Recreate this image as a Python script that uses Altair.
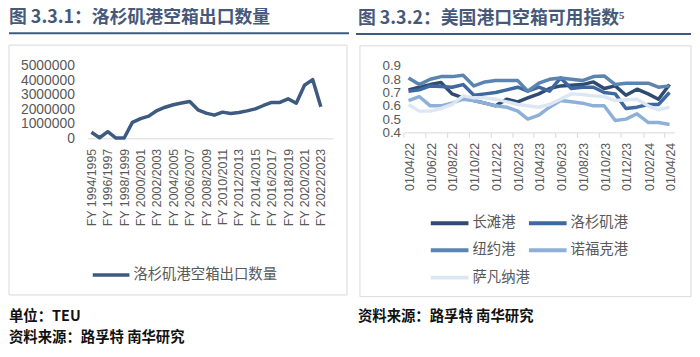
import altair as alt
import pandas as pd

FONT_CJK = "Noto Sans CJK SC"
FONT_AX = "Liberation Sans"
GRAY = "#595959"
BORDER = "#D9D9D9"
TITLE_C = "#46597A"
RULE_C = "#3F5A82"
LINE_SYMBOL = "M-2,0H2"

# ---------------- left chart data ----------------
fy_labels = [
    "FY 1994/1995", "FY 1995/1996", "FY 1996/1997", "FY 1997/1998", "FY 1998/1999",
    "FY 1999/2000", "FY 2000/2001", "FY 2001/2002", "FY 2002/2003", "FY 2003/2004",
    "FY 2004/2005", "FY 2005/2006", "FY 2006/2007", "FY 2007/2008", "FY 2008/2009",
    "FY 2009/2010", "FY 2010/2011", "FY 2011/2012", "FY 2012/2013", "FY 2013/2014",
    "FY 2014/2015", "FY 2015/2016", "FY 2016/2017", "FY 2017/2018", "FY 2018/2019",
    "FY 2019/2020", "FY 2020/2021", "FY 2021/2022", "FY 2022/2023", "FY 2023/2024",
]
la_empty_export = [
    420000, 40000, 460000, 20000, 20000, 1100000, 1360000, 1530000, 1920000, 2150000,
    2320000, 2440000, 2550000, 1970000, 1740000, 1600000, 1810000, 1720000, 1790000, 1900000,
    2040000, 2270000, 2480000, 2480000, 2730000, 2430000, 3670000, 4060000, 2180000,
]
left_series = "洛杉矶港空箱出口数量"
left_y_ticks = [0, 1000000, 2000000, 3000000, 4000000, 5000000]

# ---------------- right chart data ----------------
dates = [
    "2022-04-15T00:00:00", "2022-05-15T00:00:00", "2022-06-15T00:00:00", "2022-07-15T00:00:00",
    "2022-08-15T00:00:00", "2022-09-15T00:00:00", "2022-10-15T00:00:00", "2022-11-15T00:00:00",
    "2022-12-15T00:00:00", "2023-01-15T00:00:00", "2023-02-15T00:00:00", "2023-03-15T00:00:00",
    "2023-04-15T00:00:00", "2023-05-15T00:00:00", "2023-06-15T00:00:00", "2023-07-15T00:00:00",
    "2023-08-15T00:00:00", "2023-09-15T00:00:00", "2023-10-15T00:00:00", "2023-11-15T00:00:00",
    "2023-12-15T00:00:00", "2024-01-15T00:00:00", "2024-02-15T00:00:00", "2024-03-15T00:00:00",
    "2024-04-15T00:00:00",
]
ports = ["长滩港", "洛杉矶港", "纽约港", "诺福克港", "萨凡纳港"]
port_colors = ["#2F4A73", "#3E68A0", "#5B84B1", "#8DB0D9", "#DDE7F3"]
long_beach = [0.72, 0.74, 0.76, 0.775, 0.69, 0.66, 0.64, 0.62, 0.60, 0.65, 0.63, 0.66, 0.69,
              0.73, 0.75, 0.755, 0.76, 0.78, 0.73, 0.75, 0.68, 0.725, 0.69, 0.65, 0.76]
los_angeles = [0.71, 0.72, 0.75, 0.745, 0.74, 0.76, 0.68, 0.69, 0.70, 0.72, 0.74, 0.71, 0.74,
               0.71, 0.81, 0.73, 0.74, 0.74, 0.70, 0.69, 0.58, 0.59, 0.61, 0.61, 0.70]
new_york = [0.81, 0.76, 0.80, 0.82, 0.82, 0.83, 0.75, 0.78, 0.79, 0.79, 0.79, 0.71, 0.77,
            0.80, 0.81, 0.80, 0.79, 0.82, 0.825, 0.76, 0.77, 0.77, 0.77, 0.74, 0.75]
norfolk = [0.64, 0.67, 0.60, 0.60, 0.62, 0.65, 0.64, 0.62, 0.60, 0.59, 0.56, 0.50, 0.53,
           0.59, 0.64, 0.63, 0.62, 0.60, 0.60, 0.49, 0.50, 0.54, 0.475, 0.475, 0.46]
savannah = [0.61, 0.56, 0.56, 0.58, 0.61, 0.675, 0.66, 0.66, 0.65, 0.63, 0.61, 0.60, 0.59,
            0.61, 0.65, 0.69, 0.685, 0.675, 0.67, 0.64, 0.645, 0.65, 0.60, 0.57, 0.59]
right_y_ticks = [0.4, 0.5, 0.6, 0.7, 0.8, 0.9]
tick_months = [(2022, 4), (2022, 6), (2022, 8), (2022, 10), (2022, 12), (2023, 2), (2023, 4),
               (2023, 6), (2023, 8), (2023, 10), (2023, 12), (2024, 2), (2024, 4)]

title_left = "图 3.3.1：洛杉矶港空箱出口数量"
title_right = "图 3.3.2：美国港口空箱可用指数⁵"
note_unit = "单位：TEU"
note_source = "资料来源：路孚特 南华研究"


def text_layer(s, x, y, size, color, weight="normal"):
    return alt.Chart(pd.DataFrame({"t": [s]})).mark_text(
        align="left", baseline="middle", font=FONT_CJK, fontSize=size,
        fontWeight=weight, color=color
    ).encode(x=alt.value(x), y=alt.value(y), text="t:N")


def rule_layer(x1, x2, y, color, w):
    return alt.Chart(pd.DataFrame({"a": [0]})).mark_rule(color=color, strokeWidth=w).encode(
        x=alt.value(x1), x2=alt.value(x2), y=alt.value(y))


def box_layer(x1, x2, y1, y2):
    return alt.Chart(pd.DataFrame({"a": [0]})).mark_rect(
        fill="white", fillOpacity=0, stroke=BORDER, strokeWidth=1
    ).encode(x=alt.value(x1), x2=alt.value(x2), y=alt.value(y1), y2=alt.value(y2))


# ---------------- left panel ----------------
df_l = pd.DataFrame({"cat": fy_labels[:len(la_empty_export)], "v": la_empty_export,
                     "s": [left_series] * len(la_empty_export)})
W1, H1 = 248, 73
left_line = alt.Chart(df_l).mark_line(strokeWidth=3.5, strokeJoin="round").encode(
    x=alt.X("cat:N", scale=alt.Scale(type="point", domain=fy_labels, padding=0.5),
            axis=alt.Axis(values=fy_labels[::2], labelAngle=270, ticks=False, domainColor=BORDER,
                          labelFont=FONT_AX, labelFontSize=12.5, labelColor=GRAY, labelPadding=10,
                          labelOverlap=False, labelFlush=False, title=None, grid=False)),
    y=alt.Y("v:Q", scale=alt.Scale(domain=[0, 5000000], nice=False),
            axis=alt.Axis(values=left_y_ticks, format="d", ticks=False, domain=False, grid=False,
                          labelFont=FONT_AX, labelFontSize=14, labelColor=GRAY, labelPadding=13,
                          labelOverlap=False, labelFlush=False, title=None)),
    color=alt.Color("s:N", scale=alt.Scale(domain=[left_series], range=["#3D5A80"]),
                    legend=alt.Legend(title=None, orient="none", legendX=13, legendY=199.75,
                                      symbolType=LINE_SYMBOL, symbolSize=342, symbolStrokeWidth=3.5,
                                      labelFont=FONT_CJK, labelFontSize=14.5, labelColor=GRAY,
                                      labelOffset=11.5, padding=0)),
)
left = alt.layer(
    box_layer(-79, 262, -21, 231),
    rule_layer(-79, 264, -33, RULE_C, 2),
    text_layer(title_left, -79, -48, 18, TITLE_C, "bold"),
    left_line,
    text_layer(note_unit, -79, 253, 14.5, "#111111", "bold"),
    text_layer(note_source, -79, 274, 14.5, "#111111", "bold"),
).properties(width=W1, height=H1)

# ---------------- right panel ----------------
rows = []
for name, vals in zip(ports, [long_beach, los_angeles, new_york, norfolk, savannah]):
    for d, v in zip(dates, vals):
        rows.append({"d": d, "port": name, "v": v})
df_r = pd.DataFrame(rows)
W2, H2 = 273, 67
right_lines = alt.Chart(df_r).mark_line(strokeWidth=3.5, strokeJoin="round").encode(
    x=alt.X("d:T",
            scale=alt.Scale(domain=[alt.DateTime(year=2022, month=4, date=1),
                                    alt.DateTime(year=2024, month=4, date=28)], nice=False),
            axis=alt.Axis(values=[alt.DateTime(year=y, month=m, date=1) for y, m in tick_months],
                          format="%d/%m/%y", labelAngle=270, tickSize=5, tickColor=BORDER,
                          domainColor=BORDER, labelPadding=5, labelOffset=6,
                          labelFont=FONT_AX, labelFontSize=12.5, labelColor=GRAY,
                          labelOverlap=False, labelFlush=False, title=None, grid=False)),
    y=alt.Y("v:Q", scale=alt.Scale(domain=[0.4, 0.9], nice=False, zero=False),
            axis=alt.Axis(values=right_y_ticks, format=".1f", ticks=False, domain=False, grid=False,
                          labelFont=FONT_AX, labelFontSize=13.5, labelColor=GRAY, labelPadding=3,
                          labelOverlap=False, labelFlush=False, title=None)),
    color=alt.Color("port:N", scale=alt.Scale(domain=ports, range=port_colors),
                    legend=alt.Legend(title=None, orient="none", legendX=35, legendY=147,
                                      columns=2, direction="horizontal",
                                      columnPadding=-10, rowPadding=7.5, symbolType=LINE_SYMBOL,
                                      symbolSize=361, symbolStrokeWidth=4,
                                      labelFont=FONT_CJK, labelFontSize=14.5, labelColor=GRAY,
                                      labelOffset=11.5, padding=0)),
)
right = alt.layer(
    box_layer(-44, 290, -20.3, 232.7),
    rule_layer(-48, 290, -32.3, RULE_C, 2),
    text_layer(title_right, -46, -47.3, 18, TITLE_C, "bold"),
    right_lines,
    text_layer(note_source, -46, 253.7, 14.5, "#111111", "bold"),
).properties(width=W2, height=H2)

chart = (
    alt.hconcat(left, right, spacing=5)
    .resolve_scale(color="independent")
    .resolve_legend(color="independent")
    .properties(padding=0)
    .configure_view(strokeWidth=0)
)
chart.save("out.html", embed_options={"renderer": "svg", "actions": False})
